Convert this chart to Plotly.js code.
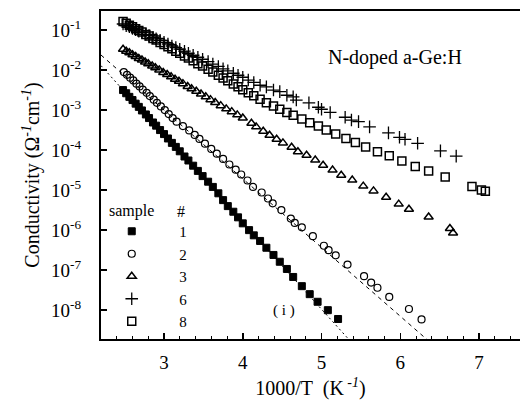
<!DOCTYPE html>
<html><head><meta charset="utf-8">
<script src="https://cdn.plot.ly/plotly-3.0.1.min.js"></script>
<style>html,body{margin:0;padding:0;background:#fff}#chart{width:521px;height:400px}</style>
</head><body><div id="chart"></div>
<script>
// x: 1000/T (K^-1); y: log10 of conductivity (Ohm^-1 cm^-1)
const sample1X = [2.48,2.52,2.56,2.60,2.64,2.68,2.72,2.77,2.81,2.86,2.90,2.95,3.00,3.05,3.10,3.15,3.20,3.26,3.31,3.37,3.43,3.49,3.56,3.62,3.69,3.75,3.81,3.88,3.94,4.00,4.08,4.14,4.22,4.30,4.39,4.47,4.56,4.64,4.75,4.85,4.95,5.08,5.21];
const sample1LogSigma = [-2.50,-2.58,-2.67,-2.75,-2.84,-2.92,-3.01,-3.11,-3.20,-3.31,-3.39,-3.50,-3.60,-3.71,-3.82,-3.92,-4.03,-4.16,-4.26,-4.39,-4.52,-4.65,-4.79,-4.92,-5.08,-5.25,-5.40,-5.54,-5.68,-5.83,-6.00,-6.13,-6.27,-6.44,-6.62,-6.79,-6.97,-7.17,-7.40,-7.60,-7.79,-8.00,-8.22];

const sample2X = [2.49,2.53,2.57,2.61,2.65,2.69,2.73,2.78,2.82,2.87,2.91,2.96,3.01,3.06,3.11,3.16,3.24,3.32,3.39,3.45,3.52,3.60,3.67,3.75,3.83,3.91,3.98,4.06,4.13,4.24,4.32,4.38,4.49,4.61,4.66,4.75,4.89,5.03,5.09,5.18,5.33,5.54,5.63,5.71,5.86,6.11,6.27];
const sample2LogSigma = [-2.05,-2.12,-2.19,-2.26,-2.34,-2.41,-2.49,-2.57,-2.65,-2.74,-2.82,-2.91,-3.00,-3.10,-3.20,-3.29,-3.40,-3.51,-3.62,-3.72,-3.84,-3.97,-4.09,-4.22,-4.36,-4.49,-4.61,-4.76,-4.92,-5.06,-5.21,-5.33,-5.50,-5.71,-5.82,-5.93,-6.15,-6.39,-6.50,-6.63,-6.86,-7.15,-7.31,-7.44,-7.67,-7.97,-8.23];

const sample3X = [2.48,2.52,2.56,2.60,2.64,2.68,2.72,2.76,2.80,2.85,2.89,2.94,2.99,3.04,3.09,3.14,3.19,3.24,3.30,3.35,3.41,3.47,3.53,3.59,3.65,3.72,3.79,3.86,3.93,4.00,4.11,4.17,4.26,4.34,4.43,4.51,4.62,4.70,4.81,4.92,5.02,5.14,5.25,5.39,5.53,5.66,5.82,5.98,6.11,6.36,6.63,6.67];
const sample3LogSigma = [-1.48,-1.53,-1.57,-1.62,-1.66,-1.71,-1.75,-1.80,-1.84,-1.90,-1.94,-2.00,-2.06,-2.11,-2.17,-2.23,-2.28,-2.34,-2.41,-2.47,-2.53,-2.60,-2.67,-2.74,-2.81,-2.89,-2.97,-3.04,-3.12,-3.20,-3.33,-3.42,-3.53,-3.63,-3.73,-3.82,-3.93,-4.04,-4.13,-4.25,-4.38,-4.50,-4.63,-4.75,-4.90,-5.02,-5.18,-5.35,-5.48,-5.67,-5.96,-6.07];

const sample6X = [2.48,2.52,2.56,2.60,2.64,2.68,2.72,2.77,2.81,2.86,2.90,2.95,3.00,3.05,3.10,3.15,3.20,3.26,3.31,3.37,3.43,3.49,3.56,3.62,3.69,3.75,3.81,3.88,3.94,4.00,4.07,4.14,4.22,4.30,4.39,4.47,4.56,4.64,4.68,4.84,4.96,5.00,5.11,5.30,5.38,5.47,5.61,5.85,5.99,6.06,6.22,6.51,6.71];
const sample6LogSigma = [-0.85,-0.89,-0.92,-0.96,-0.99,-1.03,-1.06,-1.11,-1.14,-1.19,-1.22,-1.26,-1.31,-1.35,-1.40,-1.44,-1.48,-1.53,-1.58,-1.63,-1.68,-1.73,-1.79,-1.85,-1.91,-1.97,-2.02,-2.08,-2.13,-2.18,-2.25,-2.31,-2.38,-2.42,-2.50,-2.54,-2.63,-2.67,-2.75,-2.82,-2.93,-2.98,-3.06,-3.18,-3.25,-3.29,-3.42,-3.57,-3.68,-3.73,-3.83,-4.02,-4.15];

const sample8X = [2.48,2.52,2.56,2.60,2.64,2.68,2.72,2.77,2.81,2.86,2.90,2.95,3.00,3.05,3.10,3.15,3.20,3.26,3.31,3.37,3.43,3.49,3.56,3.62,3.69,3.75,3.81,3.88,3.94,4.00,4.07,4.14,4.22,4.30,4.39,4.47,4.56,4.64,4.75,4.85,4.96,5.06,5.18,5.31,5.43,5.56,5.71,5.86,6.02,6.19,6.36,6.57,6.91,7.03,7.08];
const sample8LogSigma = [-0.79,-0.83,-0.88,-0.92,-0.97,-1.01,-1.05,-1.11,-1.15,-1.21,-1.25,-1.31,-1.36,-1.42,-1.47,-1.53,-1.58,-1.65,-1.70,-1.77,-1.84,-1.90,-1.98,-2.05,-2.13,-2.20,-2.27,-2.35,-2.42,-2.49,-2.57,-2.64,-2.73,-2.82,-2.90,-2.98,-3.06,-3.13,-3.225,-3.32,-3.40,-3.50,-3.60,-3.71,-3.81,-3.92,-4.04,-4.14,-4.27,-4.41,-4.52,-4.67,-4.91,-5.00,-5.03];

// fitted lines (dashed for sample 2, dotted for sample 1)
const fitDashedX = [2.2, 6.36];
const fitDashedLogSigma = [-1.625, -8.77];
const fitDottedX = [2.2, 5.36];
const fitDottedLogSigma = [-1.89, -8.76];

const sampleNames = ['1','2','3','6','8'];
const yTickVals = [1e-1,1e-2,1e-3,1e-4,1e-5,1e-6,1e-7,1e-8];
const yTickText = ['10<sup>-1</sup>','10<sup>-2</sup>','10<sup>-3</sup>','10<sup>-4</sup>','10<sup>-5</sup>','10<sup>-6</sup>','10<sup>-7</sup>','10<sup>-8</sup>'];
const xTickVals = [3,4,5,6,7];

const toSigma = arr => arr.map(v => Math.pow(10, v));
const FONT = 'Liberation Serif, Times New Roman, serif';

const traces = [
  {x: fitDashedX, y: toSigma(fitDashedLogSigma), mode:'lines', line:{color:'#000', width:1, dash:'4px,4px'}, showlegend:false, hoverinfo:'skip'},
  {x: fitDottedX, y: toSigma(fitDottedLogSigma), mode:'lines', line:{color:'#000', width:1, dash:'2px,3px'}, showlegend:false, hoverinfo:'skip'},
  {x: sample1X, y: toSigma(sample1LogSigma), name: sampleNames[0], mode:'markers',
   marker:{symbol:'square', size:7, color:'#000', line:{color:'#000', width:1}}},
  {x: sample2X, y: toSigma(sample2LogSigma), name: sampleNames[1], mode:'markers',
   marker:{symbol:'circle-open', size:7, color:'#000', line:{color:'#000', width:1.2}}},
  {x: sample3X, y: toSigma(sample3LogSigma), name: sampleNames[2], mode:'markers',
   marker:{symbol:'triangle-up-open', size:8, color:'#000', line:{color:'#000', width:1.5}}},
  {x: sample6X, y: toSigma(sample6LogSigma), name: sampleNames[3], mode:'markers',
   marker:{symbol:'cross-thin-open', size:9, color:'#000', line:{color:'#000', width:1.3}}},
  {x: sample8X, y: toSigma(sample8LogSigma), name: sampleNames[4], mode:'markers',
   marker:{symbol:'square-open', size:8, color:'#000', line:{color:'#000', width:1.5}}}
];

const layout = {
  width: 521, height: 400,
  margin: {l:101, r:1, t:11, b:61, pad:0},
  paper_bgcolor:'#fff', plot_bgcolor:'#fff',
  font: {family: FONT, color:'#000', size:18},
  showlegend: true,
  legend: {x:-0.040, xanchor:'left', y:0.378, yanchor:'top', bgcolor:'rgba(0,0,0,0)',
           font:{family:FONT, size:15, color:'#000'}, itemwidth:85, traceorder:'normal', tracegroupgap:0},
  xaxis: {
    range:[2.2, 7.52], tickvals:xTickVals, ticks:'inside', ticklen:6, tickwidth:1.5, tickcolor:'#000',
    minor:{dtick:0.2, tick0:0, ticks:'inside', ticklen:3, tickwidth:1, tickcolor:'#000'},
    showline:true, linewidth:2, linecolor:'#000', mirror:true, showgrid:false, zeroline:false,
    tickfont:{family:FONT, size:19}, ticklabelstandoff:5,
    title:{text:'1000/T  (K<sup> -<i>1</i></sup>)', font:{family:FONT, size:20}, standoff:12}
  },
  yaxis: {
    type:'log', range:[-8.72, -0.525], tickvals:yTickVals, ticktext:yTickText,
    ticks:'inside', ticklen:6, tickwidth:1.5, tickcolor:'#000',
    showline:true, linewidth:2, linecolor:'#000', mirror:false, showgrid:false, zeroline:false,
    tickfont:{family:FONT, size:19}, ticklabelstandoff:14,
    title:{text:'Conductivity (Ω<sup>-<i>1</i></sup>cm<sup>-<i>1</i></sup>)', font:{family:FONT, size:20}, standoff:6}
  },
  annotations: [
    {text:'N-doped a-Ge:H', xref:'x', yref:'y', x:5.93, y:-1.69, showarrow:false, xanchor:'center', yanchor:'middle', font:{family:FONT, size:20}},
    {text:'( i )', xref:'x', yref:'y', x:4.52, y:-8.0, showarrow:false, xanchor:'center', yanchor:'middle', font:{family:FONT, size:15}},
    {text:'sample', xref:'paper', yref:'paper', x:0.0733, y:0.390, showarrow:false, xanchor:'center', yanchor:'middle', font:{family:FONT, size:16}},
    {text:'#', xref:'paper', yref:'paper', x:0.192, y:0.390, showarrow:false, xanchor:'center', yanchor:'middle', font:{family:FONT, size:16}}
  ]
};

Plotly.newPlot('chart', traces, layout, {displayModeBar:false, staticPlot:true});
</script>
</body></html>
